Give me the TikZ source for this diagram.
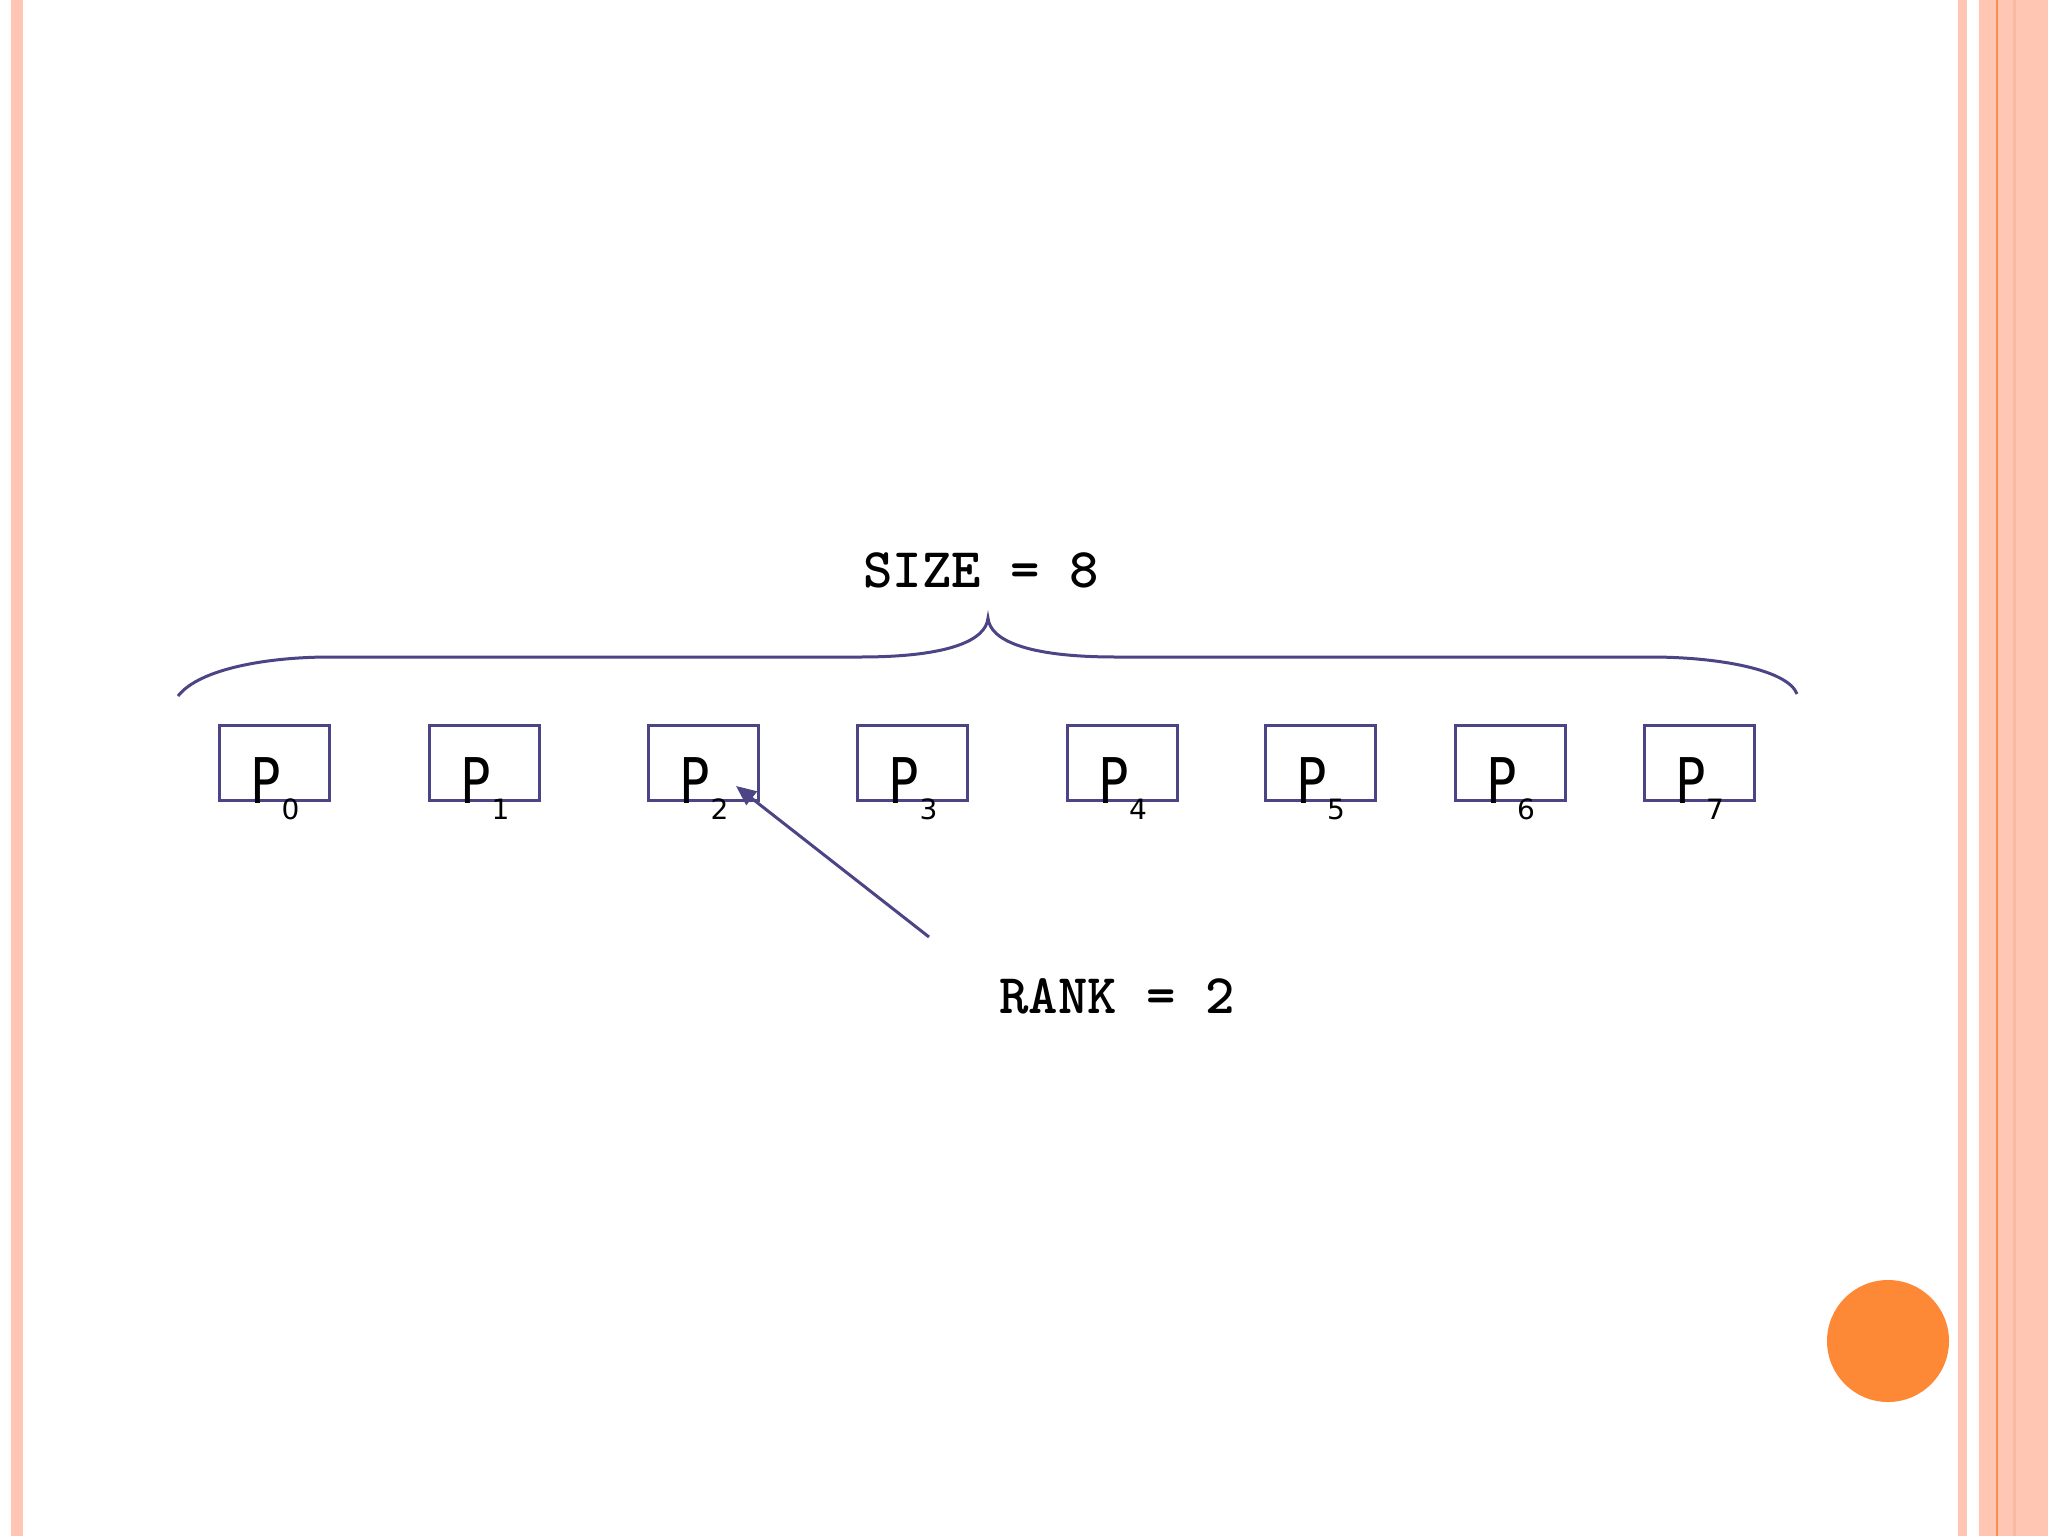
\documentclass[tikz,border=0pt]{standalone}
\usepackage{fontspec}
\setmainfont{Liberation Serif}
\newfontfamily\pfont{DejaVu Sans}
\newfontfamily\codefont{lmmonolt10-bold.otf}
\usetikzlibrary{arrows.meta}
\definecolor{linecol}{HTML}{4B4585}
\definecolor{bordpink}{HTML}{FFC6B3}
\definecolor{bordpinkdark}{HTML}{FBB9A3}
\definecolor{bordorange}{HTML}{F7904F}
\definecolor{dotorange}{HTML}{FD8836}
\tikzset{
  pbox/.style={draw=linecol, line width=3pt, minimum width=110pt, minimum height=75pt, inner sep=0pt},
  plabel/.style={font=\pfont\fontsize{63}{63}\selectfont, anchor=base west, inner sep=0pt, xscale=0.8},
  psub/.style={font=\pfont\fontsize{28}{28}\selectfont, anchor=base west, inner sep=0pt},
  codetext/.style={font=\codefont\fontsize{56}{56}\selectfont, anchor=base, inner sep=0pt},
  conn/.style={draw=linecol, line width=3pt},
}
\begin{document}
\begin{tikzpicture}[x=1pt,y=-1pt]
\fill[white] (0,0) rectangle (2048,1536);
\useasboundingbox (0,0) rectangle (2048,1536);
% borders
\fill[bordpink] (11,0) rectangle (23,1536);
\fill[bordpink] (1958,0) rectangle (1967,1536);
\fill[bordpink] (1979,0) rectangle (2048,1536);
\fill[bordpinkdark] (2013,0) rectangle (2016,1536);
\fill[bordorange] (1995.5,0) rectangle (1998,1536);
\fill[dotorange] (1888,1341) circle (61);
% boxes
\foreach \i/\cx in {0/274.5,1/484.5,2/703.5,3/912.5,4/1122,5/1320,6/1510,7/1699}{
  \node[pbox] (b\i) at (\cx,762.5) {};
  \node[plabel] (p\i) at (\cx-24,803) {P};
  \node[psub] (s\i) at (\cx+7,819) {\i};
}
% brace
\draw[conn] (178,696) .. controls (200,668) and (270,657) .. (330,657)
  -- (860,657) .. controls (950,657) and (986,640) .. (988,618)
  .. controls (990,640) and (1026,657) .. (1116,657)
  -- (1650,657) .. controls (1720,657) and (1788,670) .. (1797,694);
\node[codetext] (size) at (981,587) {SIZE = 8};
\node[codetext] (rank) at (1117,1013) {RANK = 2};
% arrow
\coordinate (tail) at (929,937);
\coordinate (tip) at (736,786);
\draw[conn, -{Triangle[length=20pt,width=17pt]}] (tail) -- (tip);
\end{tikzpicture}
\end{document}
